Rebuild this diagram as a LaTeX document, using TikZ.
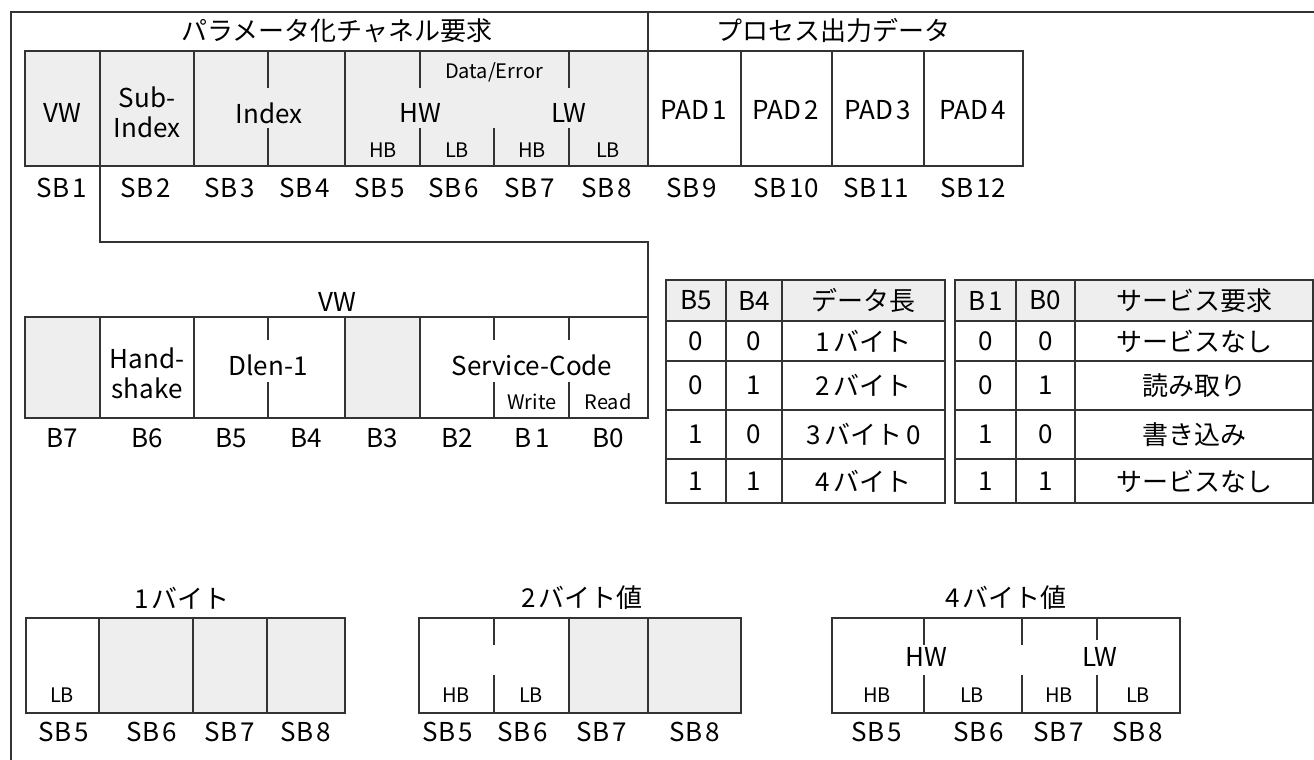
\documentclass[tikz,border=0pt]{standalone}
\usepackage{fontspec}
\setmainfont{Noto Sans CJK JP}
\definecolor{linec}{HTML}{333333}
\definecolor{fillg}{HTML}{EEEEEE}
\newcommand\bx[7]{\node[#6, minimum width={(#4-#2)*1pt}, minimum height={(#5-#3)*1pt}] (#1) at ({(#2+#4)/2},{(#3+#5)/2}) {#7};}
\newcommand\gp{\kern3.5pt}
\tikzset{
  ln/.style={draw=linec, line width=1.5pt},
  cellw/.style={ln, fill=white, inner sep=0pt, outer sep=0pt, font=\fontsize{26}{29}\selectfont},
  cellg/.style={cellw, fill=fillg},
  big/.style={font=\fontsize{26}{30}\selectfont, inner sep=0pt, align=center, text=black},
  sml/.style={font=\fontsize{20}{22}\selectfont, inner sep=0pt, text=black},
}
\begin{document}
\begin{tikzpicture}[x=1pt,y=-1pt]
\useasboundingbox (0,0) rectangle (1314,760);
% outer frame
\coordinate (fbl) at (11,760);
\coordinate (ftl) at (11,12);
\coordinate (ftr) at (1314,12);
\draw[ln] (fbl) -- (ftl) -- (ftr);
\coordinate (hdt) at (648,12);
\coordinate (hdb) at (648,51);
\draw[ln] (hdt) -- (hdb);
\node[big] (h1) at (337,31) {パラメータ化チャネル要求};
\node[big] (h2) at (833,31) {プロセス出力データ};
% row 1
\bx{c1}{25}{51}{100}{166}{cellg}{}
\bx{c2}{100}{51}{194}{166}{cellg}{}
\bx{c34}{194}{51}{345}{166}{cellg}{}
\bx{c58}{345}{51}{648}{166}{cellg}{}
\bx{p1}{648}{51}{741}{166}{cellw}{}
\bx{p2}{741}{51}{832}{166}{cellw}{}
\bx{p3}{832}{51}{924}{166}{cellw}{}
\bx{p4}{924}{51}{1023}{166}{cellw}{}
\draw[ln] (268,51) -- (268,88) (268,128) -- (268,166);
\draw[ln] (420,51) -- (420,88) (420,128) -- (420,166);
\draw[ln] (494,128) -- (494,166);
\draw[ln] (569,51) -- (569,88) (569,128) -- (569,166);
\node[big] (tvw) at (62,113) {VW};
\node[big] (tsub) at (147,112) {Sub-\\Index};
\node[big] (tidx) at (269,113) {Index};
\node[sml] (tde) at (494,72) {Data/Error};
\node[big] (thw) at (420,113) {HW};
\node[big] (tlw) at (569,113) {LW};
\node[sml] (thb1) at (383,150) {HB};
\node[sml] (tlb1) at (457,150) {LB};
\node[sml] (thb2) at (532,150) {HB};
\node[sml] (tlb2) at (608,150) {LB};
\node[big] (tp1) at (694,110) {PAD\gp1};
\node[big] (tp2) at (786,110) {PAD\gp2};
\node[big] (tp3) at (878,110) {PAD\gp3};
\node[big] (tp4) at (973,110) {PAD\gp4};
\foreach \n/\x in {1/62,2/146,3/230,4/305,5/380,6/454,7/530,8/607,9/692,10/786,11/876,12/973}
  \node[big] (sb\n) at (\x,188) {SB\gp\n};
% connector
\coordinate (bend) at (100,242);
% row VW
\bx{b7}{25}{317}{100}{418}{cellg}{}
\bx{b6}{100}{317}{194}{418}{cellw}{}
\bx{b54}{194}{317}{345}{418}{cellw}{}
\bx{b3}{345}{317}{420}{418}{cellg}{}
\bx{b20}{420}{317}{648}{418}{cellw}{}
\draw[ln] (c2.south west) -- (bend) -| (b20.north east);
\draw[ln] (268,317) -- (268,340) (268,382) -- (268,418);
\draw[ln] (494,317) -- (494,340) (494,382) -- (494,418);
\draw[ln] (569,317) -- (569,340) (569,382) -- (569,418);
\node[big] (tvw2) at (337,302) {VW};
\node[big] (ths) at (147,373) {Hand-\\shake};
\node[big] (tdl) at (268,365) {Dlen-1};
\node[big] (tsc) at (532,365) {Service-Code};
\node[sml] (twr) at (532,402) {Write};
\node[sml] (trd) at (608,402) {Read};
\foreach \n/\x in {7/62,6/147,5/231,4/306,3/382,2/457,0/608}
  \node[big] (bl\n) at (\x,438) {B\n};
\node[big] (bl1) at (532,438) {B\gp 1};
% table 1
\bx{ta11}{666}{280}{726}{321}{cellg}{B5}
\bx{ta12}{726}{280}{782}{321}{cellg}{B4}
\bx{ta13}{782}{280}{945}{321}{cellg}{データ長}
\bx{ta21}{666}{321}{726}{361}{cellw}{0}
\bx{ta22}{726}{321}{782}{361}{cellw}{0}
\bx{ta23}{782}{321}{945}{361}{cellw}{1\gp バイト}
\bx{ta31}{666}{361}{726}{410}{cellw}{0}
\bx{ta32}{726}{361}{782}{410}{cellw}{1}
\bx{ta33}{782}{361}{945}{410}{cellw}{2\gp バイト}
\bx{ta41}{666}{410}{726}{459}{cellw}{1}
\bx{ta42}{726}{410}{782}{459}{cellw}{0}
\bx{ta43}{782}{410}{945}{459}{cellw}{3\gp バイト\gp 0}
\bx{ta51}{666}{459}{726}{503}{cellw}{1}
\bx{ta52}{726}{459}{782}{503}{cellw}{1}
\bx{ta53}{782}{459}{945}{503}{cellw}{4\gp バイト}
% table 2
\bx{tb11}{955}{280}{1016}{321}{cellg}{B\gp 1}
\bx{tb12}{1016}{280}{1075}{321}{cellg}{B0}
\bx{tb13}{1075}{280}{1313}{321}{cellg}{サービス要求}
\bx{tb21}{955}{321}{1016}{361}{cellw}{0}
\bx{tb22}{1016}{321}{1075}{361}{cellw}{0}
\bx{tb23}{1075}{321}{1313}{361}{cellw}{サービスなし}
\bx{tb31}{955}{361}{1016}{410}{cellw}{0}
\bx{tb32}{1016}{361}{1075}{410}{cellw}{1}
\bx{tb33}{1075}{361}{1313}{410}{cellw}{読み取り}
\bx{tb41}{955}{410}{1016}{459}{cellw}{1}
\bx{tb42}{1016}{410}{1075}{459}{cellw}{0}
\bx{tb43}{1075}{410}{1313}{459}{cellw}{書き込み}
\bx{tb51}{955}{459}{1016}{503}{cellw}{1}
\bx{tb52}{1016}{459}{1075}{503}{cellw}{1}
\bx{tb53}{1075}{459}{1313}{503}{cellw}{サービスなし}
% bottom: 1 byte
\node[big] (t1b) at (182,598) {1\gp バイト};
\bx{d1}{26}{618}{99}{713}{cellw}{}
\bx{d2}{99}{618}{193}{713}{cellg}{}
\bx{d3}{193}{618}{267}{713}{cellg}{}
\bx{d4}{267}{618}{345}{713}{cellg}{}
\node[sml] (d1lb) at (62,695) {LB};
\node[big] (d1s5) at (64,732) {SB\gp 5};
\node[big] (d1s6) at (152,732) {SB\gp 6};
\node[big] (d1s7) at (230,732) {SB\gp 7};
\node[big] (d1s8) at (306,732) {SB\gp 8};
% bottom: 2 byte
\node[big] (t2b) at (582,598) {2\gp バイト値};
\bx{e12}{419}{618}{569}{713}{cellw}{}
\bx{e3}{569}{618}{648}{713}{cellg}{}
\bx{e4}{648}{618}{741}{713}{cellg}{}
\draw[ln] (494,618) -- (494,645) (494,675) -- (494,713);
\node[sml] (e1hb) at (456,695) {HB};
\node[sml] (e2lb) at (531,695) {LB};
\node[big] (e1s5) at (448,732) {SB\gp 5};
\node[big] (e1s6) at (523,732) {SB\gp 6};
\node[big] (e1s7) at (602,732) {SB\gp 7};
\node[big] (e1s8) at (695,732) {SB\gp 8};
% bottom: 4 byte
\node[big] (t4b) at (1006,598) {4\gp バイト値};
\bx{f}{832}{618}{1180}{713}{cellw}{}
\draw[ln] (924,618) -- (924,645) (924,675) -- (924,713);
\draw[ln] (1022,618) -- (1022,645) (1022,675) -- (1022,713);
\draw[ln] (1097,618) -- (1097,640) (1097,675) -- (1097,713);
\node[big] (fhw) at (926,657) {HW};
\node[big] (flw) at (1100,657) {LW};
\node[sml] (fhb1) at (877,695) {HB};
\node[sml] (flb1) at (972,695) {LB};
\node[sml] (fhb2) at (1059,695) {HB};
\node[sml] (flb2) at (1138,695) {LB};
\node[big] (fs5) at (877,732) {SB\gp 5};
\node[big] (fs6) at (979,732) {SB\gp 6};
\node[big] (fs7) at (1059,732) {SB\gp 7};
\node[big] (fs8) at (1138,732) {SB\gp 8};
\end{tikzpicture}
\end{document}
